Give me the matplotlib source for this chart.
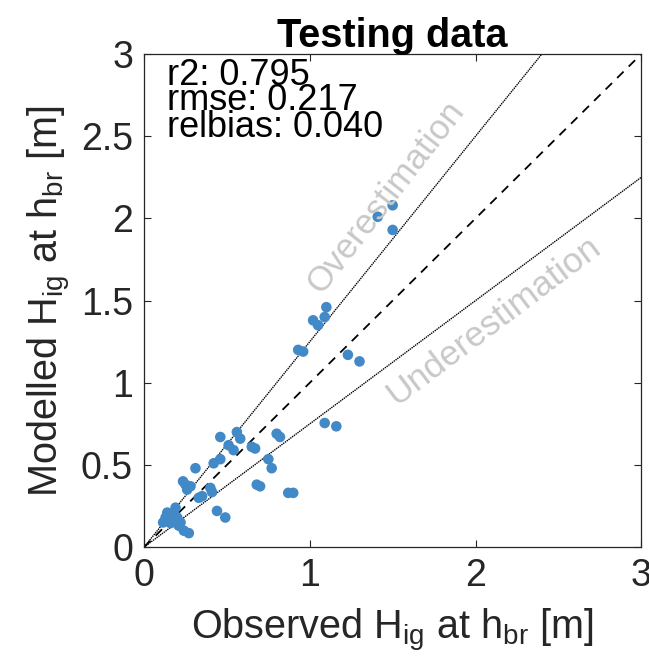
import matplotlib
matplotlib.use("Agg")
import matplotlib.pyplot as plt
import numpy as np

plt.rcParams['font.family'] = ['Liberation Sans Narrow', 'Liberation Sans', 'DejaVu Sans']
plt.rcParams['mathtext.default'] = 'regular'

observed = [1.50, 1.50, 1.41, 1.10, 1.02, 1.05, 1.09, 0.93, 0.96, 1.23, 1.30,
            1.09, 1.16, 0.46, 0.56, 0.58, 0.51, 0.54, 0.65, 0.67, 0.80, 0.82,
            0.75, 0.77, 0.42, 0.46, 0.31, 0.235, 0.26, 0.28, 0.40, 0.41, 0.33,
            0.35, 0.68, 0.70, 0.87, 0.90, 0.44, 0.49, 0.14, 0.18, 0.20, 0.115,
            0.16, 0.22, 0.24, 0.27, 0.17, 0.13, 0.21, 0.25, 0.19]
modelled = [2.08, 1.93, 2.01, 1.46, 1.38, 1.35, 1.40, 1.20, 1.19, 1.17, 1.13,
            0.755, 0.735, 0.67, 0.70, 0.66, 0.62, 0.59, 0.61, 0.60, 0.69, 0.67,
            0.535, 0.48, 0.51, 0.535, 0.48, 0.40, 0.35, 0.37, 0.36, 0.335, 0.30,
            0.31, 0.38, 0.37, 0.33, 0.33, 0.22, 0.18, 0.21, 0.21, 0.18, 0.15,
            0.146, 0.15, 0.10, 0.085, 0.17, 0.18, 0.13, 0.38, 0.24]
stats_text = ["r2: 0.795", "rmse: 0.217", "relbias: 0.040"]
x_ticks = [0, 1, 2, 3]
y_ticks = [0, 0.5, 1, 1.5, 2, 2.5, 3]
y_ticklabels = ["0", "0.5", "1", "1.5", "2", "2.5", "3"]

fig = plt.figure(figsize=(6.49, 6.68), dpi=100)
ax = fig.add_axes([0.222, 0.181, 0.766, 0.738])

lim = np.array([0, 3.2])
ax.plot(lim, lim, 'k--', lw=1.3, dashes=(5, 4))
ax.plot(lim, 1.25 * lim, color='k', lw=1.0, ls=(0, (1, 0.6)))
ax.plot(lim, 0.75 * lim, color='k', lw=1.0, ls=(0, (1, 0.6)))

ax.scatter(observed, modelled, s=58, color='#4189C7', edgecolors='none', zorder=3)

ax.set_xlim(0, 3)
ax.set_ylim(0, 3)
ax.set_xticks(x_ticks)
ax.set_xticklabels([str(t) for t in x_ticks])
ax.set_yticks(y_ticks)
ax.set_yticklabels(y_ticklabels)
ax.tick_params(direction='in', length=5, width=0.8, labelsize=27, colors='#262626',
               top=True, right=True, pad=8)
for s in ax.spines.values():
    s.set_color('#262626')
    s.set_linewidth(0.9)

ax.set_xlabel(r'Observed H$_{ig}$ at h$_{br}$ [m]', fontsize=28.5, color='#262626', labelpad=9)
ax.set_ylabel(r'Modelled H$_{ig}$ at h$_{br}$ [m]', fontsize=28.5, color='#262626', labelpad=6)
ax.set_title('Testing data', fontsize=28.5, fontweight='bold', pad=5)

for i, (t, yv) in enumerate(zip(stats_text, [2.87, 2.715, 2.555])):
    ax.text(0.14, yv, t, fontsize=26, va='center', ha='left', color='k')

ax.text(1.46, 2.13, 'Overestimation', fontsize=25, color='#c8c8c8',
        rotation=52, ha='center', va='center', rotation_mode='anchor')
ax.text(2.11, 1.38, 'Underestimation', fontsize=25.5, color='#c8c8c8',
        rotation=37, ha='center', va='center', rotation_mode='anchor')

fig.savefig('out.png', dpi=100)
